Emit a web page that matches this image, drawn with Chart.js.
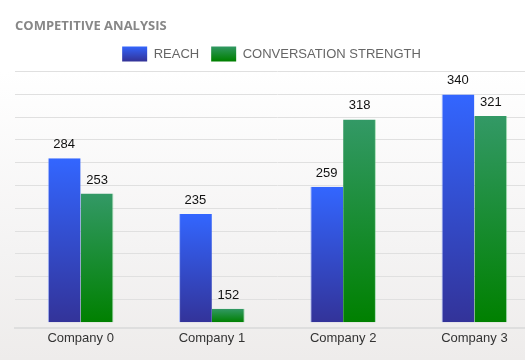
<!DOCTYPE html>
<html>
<head>
<meta charset="utf-8">
<script src="https://cdn.jsdelivr.net/npm/chart.js@4/dist/chart.umd.min.js"></script>
<style>
html, body { margin: 0; padding: 0; width: 525px; height: 360px; overflow: hidden; }
body { background: linear-gradient(to bottom, #ffffff 0%, #ffffff 20%, #f4f3f3 70%, #eeeceb 100%); }
#wrap { position: absolute; left: 0; top: 0; width: 540px; height: 360px; }
</style>
</head>
<body>
<div id="wrap"><canvas id="c"></canvas></div>
<script>
const categories = ["Company 0", "Company 1", "Company 2", "Company 3"];
const reach = [284, 235, 259, 340];
const conversationStrength = [253, 152, 318, 321];
const seriesNames = ["REACH", "CONVERSATION STRENGTH"];
const chartTitle = "COMPETITIVE ANALYSIS";
const axisMin = 134.7, axisMax = 360, barBase = 140, gridStep = 20, firstGrid = 160;

function barGradient(top, bottom) {
  return function (context) {
    const chart = context.chart;
    if (!chart.chartArea || context.type !== 'data') return top;
    const y = chart.scales.y;
    const v = context.parsed ? context.parsed.y : context.raw;
    const yTop = y.getPixelForValue(v);
    const yBot = y.getPixelForValue(barBase);
    const g = chart.ctx.createLinearGradient(0, yTop, 0, yBot);
    g.addColorStop(0, top);
    g.addColorStop(1, bottom);
    return g;
  };
}

const valueLabels = {
  id: 'valueLabels',
  afterDatasetsDraw(chart) {
    const ctx = chart.ctx;
    ctx.save();
    ctx.font = "13px 'Liberation Sans', Arial, sans-serif";
    ctx.fillStyle = '#111111';
    ctx.textAlign = 'center';
    ctx.textBaseline = 'alphabetic';
    chart.data.datasets.forEach((ds, i) => {
      const meta = chart.getDatasetMeta(i);
      meta.data.forEach((el, j) => {
        ctx.fillText(String(ds.data[j]), el.x, el.y - 10);
      });
    });
    ctx.restore();
  }
};

const legendShift = {
  id: 'legendShift',
  afterLayout(chart) {
    if (chart.legend) { chart.legend.left -= 6; chart.legend.right -= 6; }
  }
};

Chart.defaults.font.family = "'Liberation Sans', Arial, sans-serif";

new Chart(document.getElementById('c'), {
  type: 'bar',
  data: {
    labels: categories,
    datasets: [
      { label: seriesNames[0], data: reach, base: barBase,
        backgroundColor: barGradient('#3366ff', '#333399'),
        borderColor: 'rgba(120,150,255,0.6)', borderWidth: {left: 1, right: 0, top: 0, bottom: 0},
        categoryPercentage: 0.5, barPercentage: 1.0 },
      { label: seriesNames[1], data: conversationStrength, base: barBase,
        backgroundColor: barGradient('#339966', '#008000'),
        borderColor: 'rgba(90,200,120,0.5)', borderWidth: {left: 0, right: 1, top: 0, bottom: 0},
        categoryPercentage: 0.5, barPercentage: 1.0 }
    ]
  },
  options: {
    responsive: true,
    maintainAspectRatio: false,
    animation: false,
    layout: { padding: { left: 15, right: 0, top: 0, bottom: 12 } },
    plugins: {
      title: {
        display: true, text: chartTitle, align: 'start', color: '#878787',
        font: { family: "'Open Sans', sans-serif", size: 13, weight: 'bold' },
        padding: { top: 18, bottom: 1 }
      },
      legend: {
        display: true, position: 'top',
        labels: {
          boxWidth: 25, boxHeight: 15, color: '#666666', padding: 12,
          font: { size: 13 },
          generateLabels(chart) {
            const fills = [['#3366ff', '#333399'], ['#339966', '#008000']];
            return chart.data.datasets.map((ds, i) => {
              const g = chart.ctx.createLinearGradient(0, 46, 0, 61);
              g.addColorStop(0, fills[i][0]);
              g.addColorStop(1, fills[i][1]);
              return { text: ds.label, fillStyle: g, strokeStyle: 'rgba(0,0,0,0)', lineWidth: 0, datasetIndex: i, fontColor: '#666666' };
            });
          }
        }
      },
      tooltip: { enabled: false }
    },
    scales: {
      x: {
        grid: { display: false, drawTicks: false },
        border: { display: true, color: '#dedede', width: 2 },
        ticks: { color: '#333333', font: { size: 13 }, padding: 2 }
      },
      y: {
        min: axisMin, max: axisMax,
        ticks: { display: false, stepSize: gridStep },
        border: { display: false },
        grid: { color: '#e0e0e0', lineWidth: 1, drawTicks: false },
        afterBuildTicks(scale) {
          scale.ticks = scale.ticks.filter(t => t.value >= firstGrid);
        }
      }
    }
  },
  plugins: [valueLabels, legendShift]
});
</script>
</body>
</html>
